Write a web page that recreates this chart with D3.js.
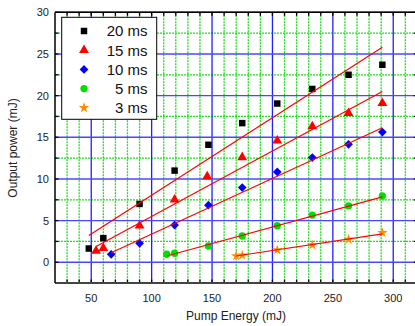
<!DOCTYPE html>
<html>
<head>
<meta charset="utf-8">
<script src="https://cdn.jsdelivr.net/npm/d3@7/dist/d3.min.js"></script>
<style>
  html, body { margin: 0; padding: 0; background: #fff; }
  svg { display: block; font-family: "Liberation Sans", Arial, sans-serif; }
</style>
</head>
<body>
<svg id="chart" width="415" height="326"></svg>
<script>
// Output energy versus pump energy for several pump pulse durations
const seriesNames = ["20 ms", "15 ms", "10 ms", "5 ms", "3 ms"];

const pump20 = [48, 60, 90, 119, 147, 175, 204, 233, 263, 291];
const out20  = [1.65, 2.9, 7.0, 11.0, 14.1, 16.7, 19.05, 20.8, 22.5, 23.7];
const pump15 = [54, 60, 90, 119, 146, 175, 204, 233, 263, 291];
const out15  = [1.35, 1.7, 4.4, 7.5, 10.3, 12.6, 14.6, 16.3, 17.9, 19.1];
const pump10 = [66.5, 90, 119, 147, 175, 204, 233, 263, 291];
const out10  = [0.96, 2.27, 4.46, 6.85, 8.97, 10.84, 12.56, 14.15, 15.63];
const pump5  = [112.5, 119, 147, 175, 204, 233, 263, 291];
const out5   = [0.96, 1.08, 1.95, 3.15, 4.38, 5.66, 6.77, 7.97];
const pump3  = [170, 175, 204, 233, 263, 291];
const out3   = [0.75, 0.84, 1.47, 2.07, 2.75, 3.54];

// Linear fit segments: [x start, y start, x end, y end] per series
const fit20 = [48, 3.2, 291, 25.8];
const fit15 = [54, 1.9, 291, 20.5];
const fit10 = [66.5, 1.15, 291, 16.15];
const fit5  = [112.5, 0.75, 291, 7.85];
const fit3  = [170, 0.75, 291, 3.4];

const xTicks = [50, 100, 150, 200, 250, 300];
const yTicks = [0, 5, 10, 15, 20, 25, 30];

const series = [
  { name: seriesNames[0], xs: pump20, ys: out20, fit: fit20, color: "#000000", shape: "square" },
  { name: seriesNames[1], xs: pump15, ys: out15, fit: fit15, color: "#ff0000", shape: "triangle" },
  { name: seriesNames[2], xs: pump10, ys: out10, fit: fit10, color: "#0000ff", shape: "diamond" },
  { name: seriesNames[3], xs: pump5,  ys: out5,  fit: fit5,  color: "#00e000", shape: "circle" },
  { name: seriesNames[4], xs: pump3,  ys: out3,  fit: fit3,  color: "#ff8c00", shape: "star" }
];

const svg = d3.select("#chart");
const plotL = 55, plotR = 417.4, plotT = 12.3, plotB = 283.1;

const x = d3.scaleLinear().domain([20, 320]).range([plotL, plotR]);
const y = d3.scaleLinear().domain([-2.5, 30]).range([plotB, plotT]);

const plot = svg.append("g");
plot.append("rect").attr("x", plotL).attr("y", plotT)
  .attr("width", plotR - plotL).attr("height", plotB - plotT).attr("fill", "#fff");

// Minor grid (dotted green)
const xMinor = d3.range(30, 320, 10).filter(v => v % 50 !== 0);
const yMinor = d3.range(-2.5, 30, 2.5).filter(v => Math.abs(v % 5) > 0.01);
plot.selectAll(".gx").data(xMinor).join("line")
  .attr("x1", d => x(d)).attr("x2", d => x(d)).attr("y1", plotT).attr("y2", plotB)
  .attr("stroke", "#22dd22").attr("stroke-width", 1.3).attr("stroke-dasharray", "2,1");
plot.selectAll(".gy").data(yMinor).join("line")
  .attr("y1", d => y(d)).attr("y2", d => y(d)).attr("x1", plotL).attr("x2", plotR)
  .attr("stroke", "#22dd22").attr("stroke-width", 1.3).attr("stroke-dasharray", "2,1");

// Major grid (blue)
plot.selectAll(".Gx").data(xTicks).join("line")
  .attr("x1", d => x(d)).attr("x2", d => x(d)).attr("y1", plotT).attr("y2", plotB)
  .attr("stroke", "#2020ff").attr("stroke-width", 1.3);
plot.selectAll(".Gy").data(yTicks).join("line")
  .attr("y1", d => y(d)).attr("y2", d => y(d)).attr("x1", plotL).attr("x2", plotR)
  .attr("stroke", "#4848ff").attr("stroke-width", 1.4);

// Inward tick marks on all four sides
const tickX = d3.range(30, 320, 10);
const tickY = d3.range(-2.5, 30.01, 2.5);
const tk = 3.5;
plot.selectAll(".tb").data(tickX).join("line")
  .attr("x1", d => x(d)).attr("x2", d => x(d)).attr("y1", plotB).attr("y2", plotB - tk)
  .attr("stroke", "#000").attr("stroke-width", 1.3);
plot.selectAll(".tt").data(tickX).join("line")
  .attr("x1", d => x(d)).attr("x2", d => x(d)).attr("y1", plotT).attr("y2", plotT + tk)
  .attr("stroke", "#000").attr("stroke-width", 1.3);
plot.selectAll(".tl").data(tickY).join("line")
  .attr("y1", d => y(d)).attr("y2", d => y(d)).attr("x1", plotL).attr("x2", plotL + tk)
  .attr("stroke", "#000040").attr("stroke-width", 1.3);
plot.selectAll(".tr").data(tickY).join("line")
  .attr("y1", d => y(d)).attr("y2", d => y(d)).attr("x1", plotR).attr("x2", plotR - tk)
  .attr("stroke", "#000").attr("stroke-width", 1.3);

// Frame
plot.append("line").attr("x1", plotL).attr("x2", plotR).attr("y1", plotT).attr("y2", plotT)
  .attr("stroke", "#000").attr("stroke-width", 1.5);
plot.append("line").attr("x1", plotL).attr("x2", plotR).attr("y1", plotB).attr("y2", plotB)
  .attr("stroke", "#444").attr("stroke-width", 2);
plot.append("line").attr("x1", plotL).attr("x2", plotL).attr("y1", plotT).attr("y2", plotB)
  .attr("stroke", "#000").attr("stroke-width", 1.5);

// Markers
function symbolFor(shape) {
  switch (shape) {
    case "square":   return d3.symbol(d3.symbolSquare, 42)();
    case "triangle": return d3.symbol(d3.symbolTriangle, 42)();
    case "diamond":  return d3.symbol(d3.symbolSquare, 38)();
    case "circle":   return d3.symbol(d3.symbolCircle, 42)();
    case "star":     return d3.symbol(d3.symbolStar, 34)();
  }
}
function transformFor(shape, px, py) {
  return shape === "diamond" ? `translate(${px},${py}) rotate(45)` : `translate(${px},${py})`;
}

series.forEach(s => {
  const pts = s.xs.map((v, i) => [v, s.ys[i]]);
  plot.append("g").selectAll("path").data(pts).join("path")
    .attr("d", symbolFor(s.shape))
    .attr("transform", d => transformFor(s.shape, x(d[0]), y(d[1])))
    .attr("fill", s.color);
});

// Fit lines
series.forEach(s => {
  plot.append("line")
    .attr("x1", x(s.fit[0])).attr("y1", y(s.fit[1]))
    .attr("x2", x(s.fit[2])).attr("y2", y(s.fit[3]))
    .attr("stroke", "#ff0000").attr("stroke-width", 1.2);
});

// Tick labels
svg.append("g").selectAll("text").data(xTicks).join("text")
  .attr("x", d => x(d)).attr("y", 302).attr("text-anchor", "middle")
  .attr("font-size", 11).attr("fill", "#222").text(d => d);
svg.append("g").selectAll("text").data(yTicks).join("text")
  .attr("x", 49).attr("y", d => y(d) + 4).attr("text-anchor", "end")
  .attr("font-size", 11).attr("fill", "#222").text(d => d);

// Axis titles
svg.append("text").attr("x", 236).attr("y", 320).attr("text-anchor", "middle")
  .attr("font-size", 12).attr("fill", "#222").text("Pump Energy (mJ)");
svg.append("text").attr("transform", "translate(17,148) rotate(-90)")
  .attr("text-anchor", "middle").attr("font-size", 12).attr("fill", "#222")
  .text("Output power (mJ)");

// Legend
const legend = svg.append("g");
legend.append("rect").attr("x", 61.7).attr("y", 17.3).attr("width", 95).attr("height", 102)
  .attr("fill", "#fff").attr("stroke", "#000").attr("stroke-width", 1);
series.forEach((s, i) => {
  const ly = 31 + i * 19.2;
  legend.append("path").attr("d", symbolFor(s.shape))
    .attr("transform", transformFor(s.shape, 84, ly)).attr("fill", s.color);
  legend.append("text").attr("x", 147.5).attr("y", ly + 5.3).attr("text-anchor", "end")
    .attr("font-size", 15).attr("fill", "#111").text(s.name);
});
</script>
</body>
</html>
